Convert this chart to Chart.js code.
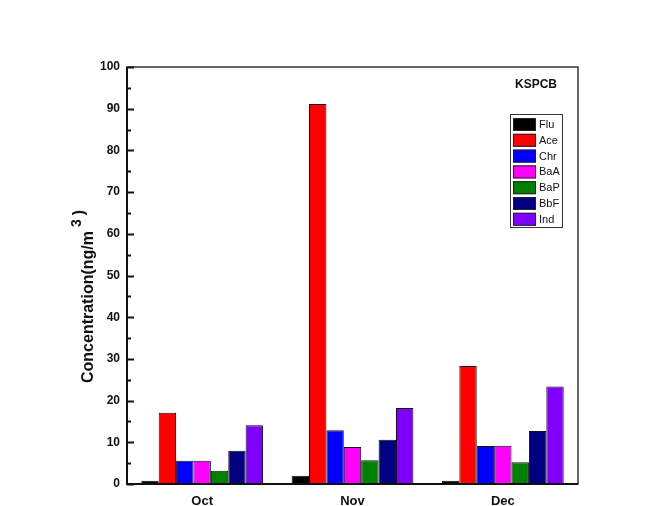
<!DOCTYPE html>
<html>
<head>
<meta charset="utf-8">
<script src="https://cdn.jsdelivr.net/npm/chart.js@4/dist/chart.umd.min.js"></script>
<style>
  html, body { margin: 0; padding: 0; background: #fff; }
  #wrap { width: 655px; height: 506px; position: relative; }
</style>
</head>
<body>
<div id="wrap"><canvas id="chart" width="655" height="506"></canvas></div>
<script>
const months = ['Oct', 'Nov', 'Dec'];
const compounds = ['Flu', 'Ace', 'Chr', 'BaA', 'BaP', 'BbF', 'Ind'];
const colors = ['#000000', '#ff0000', '#0000ff', '#ff00ff', '#008000', '#000080', '#8000ff'];

// values per compound, ordered Oct, Nov, Dec
const flu = [0.8, 2.0, 0.8];
const ace = [17.1, 91.1, 28.3];
const chr = [5.6, 12.9, 9.1];
const baa = [5.6, 8.9, 9.2];
const bap = [3.2, 5.7, 5.2];
const bbf = [8.0, 10.6, 12.7];
const ind = [14.1, 18.2, 23.4];
const seriesValues = [flu, ace, chr, baa, bap, bbf, ind];

const yTicks = [0, 10, 20, 30, 40, 50, 60, 70, 80, 90, 100];
const FONT = 'Arial, "Liberation Sans", sans-serif';

const datasets = compounds.map((name, i) => {
  return {
    label: name,
    data: seriesValues[i],
    backgroundColor: colors[i],
    borderColor: '#111',
    borderWidth: 1,
    borderSkipped: 'bottom',
  };
});

// frame, inward ticks, title, legend
const decorPlugin = {
  id: 'decor',
  afterDraw: (chart) => {
    const ctx = chart.ctx;
    const area = chart.chartArea;
    const y = chart.scales.y;
    ctx.save();

    // box
    ctx.strokeStyle = '#333';
    ctx.lineWidth = 1.5;
    ctx.strokeRect(area.left, area.top, area.right - area.left, area.bottom - area.top);
    ctx.strokeStyle = '#111';
    ctx.lineWidth = 2;
    ctx.beginPath();
    ctx.moveTo(area.left, area.top);
    ctx.lineTo(area.left, area.bottom);
    ctx.lineTo(area.right, area.bottom);
    ctx.stroke();

    // y ticks pointing inward
    for (let v = 0; v <= 100; v += 5) {
      const py = Math.round(y.getPixelForValue(v)) + 0.5;
      const len = v % 10 == 0 ? 7 : 4;
      ctx.beginPath();
      ctx.moveTo(area.left, py);
      ctx.lineTo(area.left + len, py);
      ctx.stroke();
    }

    // y axis title with superscript
    ctx.fillStyle = '#111';
    ctx.translate(93, 383);
    ctx.rotate(-Math.PI / 2);
    ctx.textBaseline = 'alphabetic';
    ctx.textAlign = 'left';
    ctx.font = 'bold 16px ' + FONT;
    const main = 'Concentration(ng/m';
    ctx.fillText(main, 0, 0);
    let x = ctx.measureText(main).width + 4;
    ctx.font = 'bold 14px ' + FONT;
    ctx.fillText('3', x, -12);
    x += ctx.measureText('3').width + 4;
    ctx.font = 'bold 16px ' + FONT;
    ctx.fillText(')', x, -9);
    ctx.setTransform(1, 0, 0, 1, 0, 0);

    // KSPCB label
    ctx.font = 'bold 12px ' + FONT;
    ctx.textAlign = 'left';
    ctx.textBaseline = 'middle';
    ctx.fillText('KSPCB', 515, 85);

    // legend
    const lx = 510, ly = 114, lw = 52, lh = 113;
    ctx.fillStyle = '#fff';
    ctx.fillRect(lx, ly, lw, lh);
    ctx.strokeStyle = '#333';
    ctx.lineWidth = 1;
    ctx.strokeRect(lx + 0.5, ly + 0.5, lw, lh);
    ctx.font = '11px ' + FONT;
    chart.data.datasets.forEach((ds, i) => {
      const sy = ly + 4 + i * 15.8;
      ctx.fillStyle = ds.backgroundColor;
      ctx.fillRect(lx + 3, sy, 23, 13);
      ctx.strokeStyle = '#222';
      ctx.strokeRect(lx + 3.5, sy + 0.5, 22, 12);
      ctx.fillStyle = '#111';
      ctx.fillText(ds.label, lx + 29, sy + 7);
    });

    ctx.restore();
  },
};

new Chart(document.getElementById('chart'), {
  type: 'bar',
  data: {
    labels: months,
    datasets: datasets,
  },
  plugins: [decorPlugin],
  options: {
    responsive: false,
    animation: false,
    layout: {
      padding: { top: 67, right: 77, left: 0, bottom: 0 },
    },
    plugins: {
      legend: { display: false },
      tooltip: { enabled: false },
    },
    datasets: {
      bar: {
        categoryPercentage: 0.81,
        barPercentage: 1.0,
      },
    },
    scales: {
      x: {
        grid: { display: false, drawTicks: false },
        border: { display: false },
        ticks: {
          color: '#111',
          padding: 10,
          font: { family: FONT, size: 13, weight: 'bold' },
        },
        afterFit: (scale) => {
          scale.height = 22;
        },
      },
      y: {
        min: 0,
        max: 100,
        afterBuildTicks: (scale) => {
          scale.ticks = yTicks.map((v) => ({ value: v }));
        },
        grid: { display: false, drawTicks: false },
        border: { display: false },
        ticks: {
          color: '#111',
          padding: 7,
          font: { family: FONT, size: 12, weight: 'bold' },
        },
        afterFit: (scale) => {
          scale.width = 127;
        },
      },
    },
  },
});
</script>
</body>
</html>
